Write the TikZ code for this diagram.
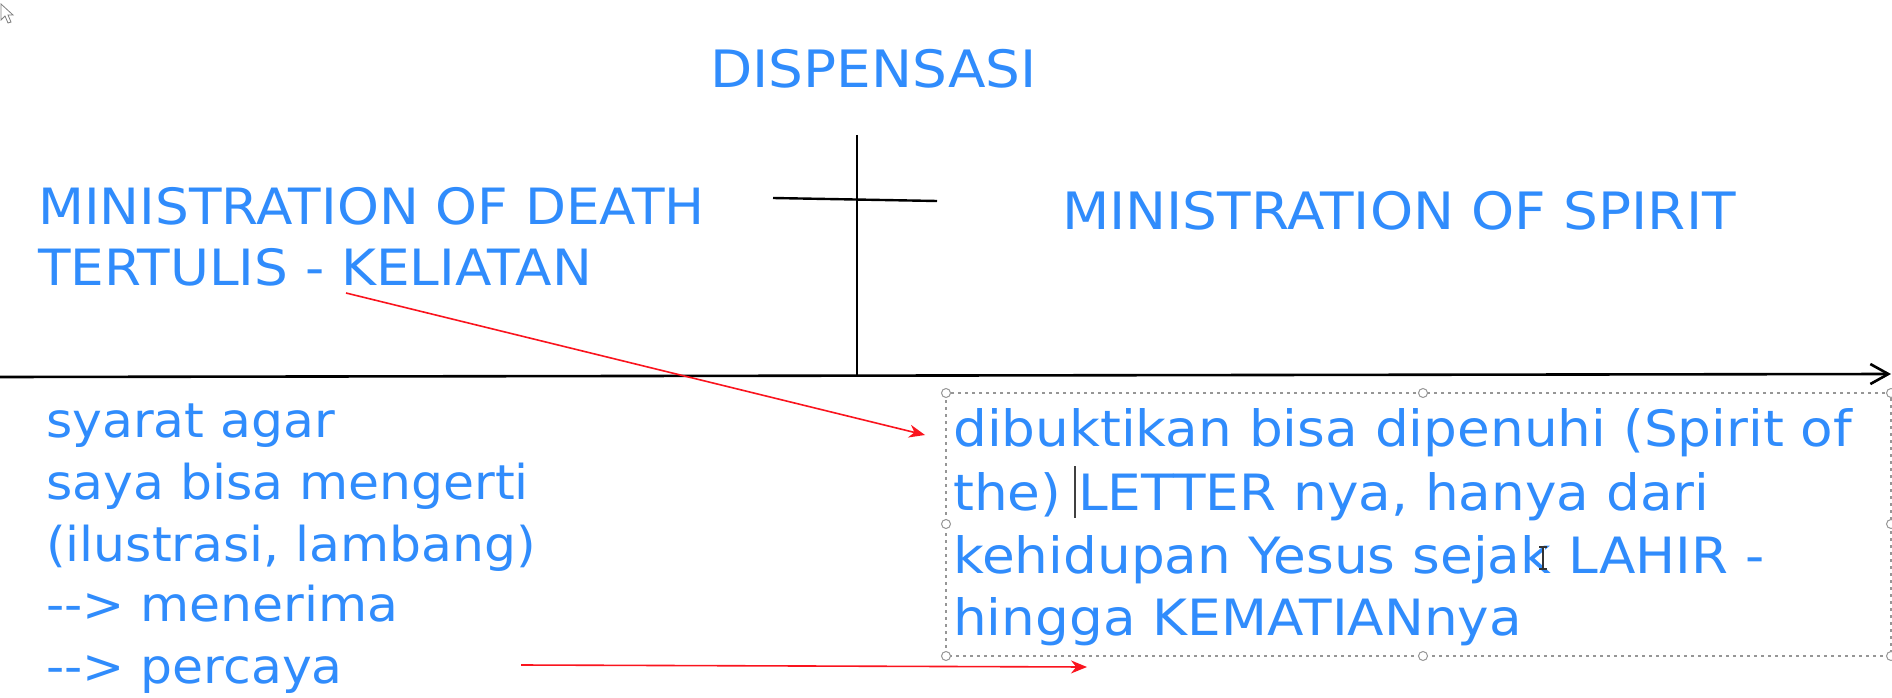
\documentclass[tikz,border=0pt]{standalone}
\usepackage{fontspec}
\setmainfont{DejaVu Sans}[FakeStretch=1.065]
\newfontfamily\lowfont{DejaVu Sans}[FakeStretch=1.05]
\usetikzlibrary{arrows.meta}
\definecolor{txtblue}{RGB}{48,140,252}
\definecolor{arrred}{RGB}{250,20,30}
\definecolor{selgray}{RGB}{150,150,150}
\tikzset{
  big/.style={anchor=base west, inner sep=0pt, text=txtblue, font=\fontsize{50}{60}\selectfont},
  huge/.style={anchor=base west, inner sep=0pt, text=txtblue, font=\fontsize{51.5}{60}\selectfont},
  mid/.style={anchor=base west, inner sep=0pt, text=txtblue, font=\lowfont\fontsize{48}{58}\selectfont},
  redarrow/.style={draw=arrred, line width=1.6pt, -{Stealth[length=16pt,width=13pt]}},
  handle/.style={circle, draw=selgray, fill=white, line width=1pt, minimum size=9pt, inner sep=0pt},
  selbox/.style={draw=selgray, line width=1.2pt, dash pattern=on 3pt off 4pt},
}
\begin{document}
\begin{tikzpicture}[x=1pt,y=-1pt]
\useasboundingbox (0,0) rectangle (1892,698);
\fill[white] (0,0) rectangle (1892,698);
% mouse pointer
\draw[draw=gray, fill=white, line width=0.8pt] (1,4) -- (1,20) -- (5,16) -- (8,23) -- (11,22) -- (8,15) -- (13,15) -- cycle;
% timeline axis
\coordinate (axL) at (0,377);
\coordinate (axR) at (1891,374);
\draw[line width=2.6pt, -{Straight Barb[length=18pt,width=20pt]}] (axL) -- (axR);
% cross
\coordinate (crT) at (857,135);
\coordinate (crB) at (857,376);
\coordinate (crHL) at (773,198);
\coordinate (crHR) at (937,201);
\draw[line width=2.4pt] (crT) -- (crB);
\draw[line width=2.4pt] (crHL) -- (crHR);
% top texts
\node[huge] (disp) at (710,88) {DISPENSASI};
\node[big] (death1) at (38,224) {MINISTRATION OF DEATH};
\node[big] (death2) at (38,285) {TERTULIS - KELIATAN};
\node[huge] (spirit) at (1062,229) {MINISTRATION OF SPIRIT};
% lower left text
\node[mid] (l1) at (46,437) {syarat agar};
\node[mid] (l2) at (46,499) {saya bisa mengerti};
\node[mid] (l3) at (46,561) {(ilustrasi, lambang)};
\node[mid] (l4) at (46,621) {-{}-> menerima};
\node[mid] (l5) at (46,683) {-{}-> percaya};
% selection box
\draw[selbox] (946,393) rectangle (1891,656);
\node[handle] (h1) at (946,393) {};
\node[handle] (h2) at (1423,393) {};
\node[handle] (h3) at (1891,393) {};
\node[handle] (h4) at (946,524) {};
\node[handle] (h5) at (1891,524) {};
\node[handle] (h6) at (946,656) {};
\node[handle] (h7) at (1423,656) {};
\node[handle] (h8) at (1891,656) {};
% right box text
\node[big] (r1) at (953,446) {dibuktikan bisa dipenuhi (Spirit of};
\node[big] (r2) at (953,510) {the) LETTER nya, hanya dari};
\node[big] (r3) at (953,573) {kehidupan Yesus sejak LAHIR -};
\node[big] (r4) at (953,635) {hingga KEMATIANnya};
% text caret
\draw[line width=1.4pt, black!75] (1075,466) -- (1075,518);
% I-beam cursor
\draw[line width=3pt, white] (1543,546) -- (1543,570);
\draw[line width=1.4pt, black!80] (1543,547) -- (1543,569) (1539,547) -- (1547,547) (1539,569) -- (1547,569);
% red arrows
\coordinate (a1s) at (346,293);
\coordinate (a1e) at (925,435);
\coordinate (a2s) at (521,665);
\coordinate (a2e) at (1087,667);
\draw[redarrow] (a1s) -- (a1e);
\draw[redarrow] (a2s) -- (a2e);
\end{tikzpicture}
\end{document}
